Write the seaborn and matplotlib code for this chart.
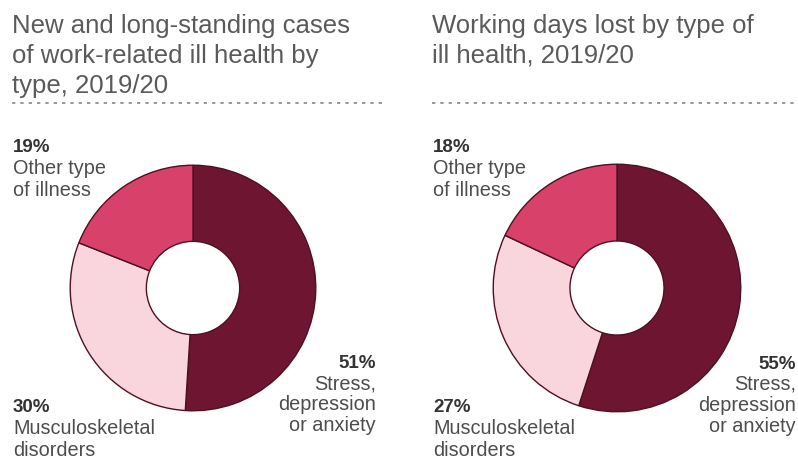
import matplotlib
matplotlib.use("Agg")
import matplotlib.pyplot as plt
import seaborn as sns
from matplotlib.lines import Line2D

sns.set_theme(style="white")
plt.rcParams["font.family"] = ["Liberation Sans", "DejaVu Sans"]

# ---- data ----
categories = ["Stress, depression or anxiety", "Musculoskeletal disorders", "Other type of illness"]
cases_share = [51, 30, 19]
days_share = [55, 27, 18]
titles = ["New and long-standing cases\nof work-related ill health by\ntype, 2019/20",
          "Working days lost by type of\nill health, 2019/20"]
label_lines = {
    "Stress, depression or anxiety": ["Stress,", "depression", "or anxiety"],
    "Musculoskeletal disorders": ["Musculoskeletal", "disorders"],
    "Other type of illness": ["Other type", "of illness"],
}

colors = ["#6e1631", "#f9d6de", "#d8416a"]
edge = "#4f0f22"

W, H = 798, 459
fig = plt.figure(figsize=(W / 100, H / 100), dpi=100)
fig.patch.set_facecolor("white")


def fx(x):
    return x / W


def fy(y):
    return 1 - y / H


def donut(cx, cy, r, values):
    ax = fig.add_axes([fx(cx - r), fy(cy + r), 2 * r / W, 2 * r / H])
    ax.pie(values, colors=colors, startangle=90, counterclock=False,
           wedgeprops=dict(width=0.62, edgecolor=edge, linewidth=1.0))
    ax.set_xlim(-1.01, 1.01)
    ax.set_ylim(-1.01, 1.01)
    ax.set_aspect("equal")
    ax.axis("off")
    return ax


donut(193, 288, 124, cases_share)
donut(617, 288, 125, days_share)

title_color = "#5a5a5a"
text_color = "#4d4d4d"
pct_color = "#333333"

# titles
for x0, t in zip([12, 432], titles):
    for i, line in enumerate(t.split("\n")):
        fig.text(fx(x0), fy(33 + 30 * i), line, fontsize=18.5, color=title_color,
                 ha="left", va="baseline")

# dotted rules
for x0, x1 in [(12, 383), (432, 795)]:
    fig.add_artist(Line2D([fx(x0), fx(x1)], [fy(103), fy(103)], color="#888888",
                          linewidth=1.2, linestyle=(0, (2, 3)), transform=fig.transFigure))


def label(x, y, ha, pct, lines, step=22):
    fig.text(fx(x), fy(y), f"{pct}%", fontsize=13.5, fontweight="bold", color=pct_color,
             ha=ha, va="baseline")
    for i, ln in enumerate(lines):
        fig.text(fx(x), fy(y + step * (i + 1)), ln, fontsize=14.3, color=text_color,
                 ha=ha, va="baseline")


# left panel labels
label(13, 152, "left", cases_share[2], label_lines[categories[2]])
label(13, 412, "left", cases_share[1], label_lines[categories[1]])
label(376, 368, "right", cases_share[0], label_lines[categories[0]], step=21)

# right panel labels
label(433, 152, "left", days_share[2], label_lines[categories[2]])
label(433, 412, "left", days_share[1], label_lines[categories[1]])
label(796, 369, "right", days_share[0], label_lines[categories[0]], step=21)

fig.savefig("out.png", dpi=100, facecolor="white")
